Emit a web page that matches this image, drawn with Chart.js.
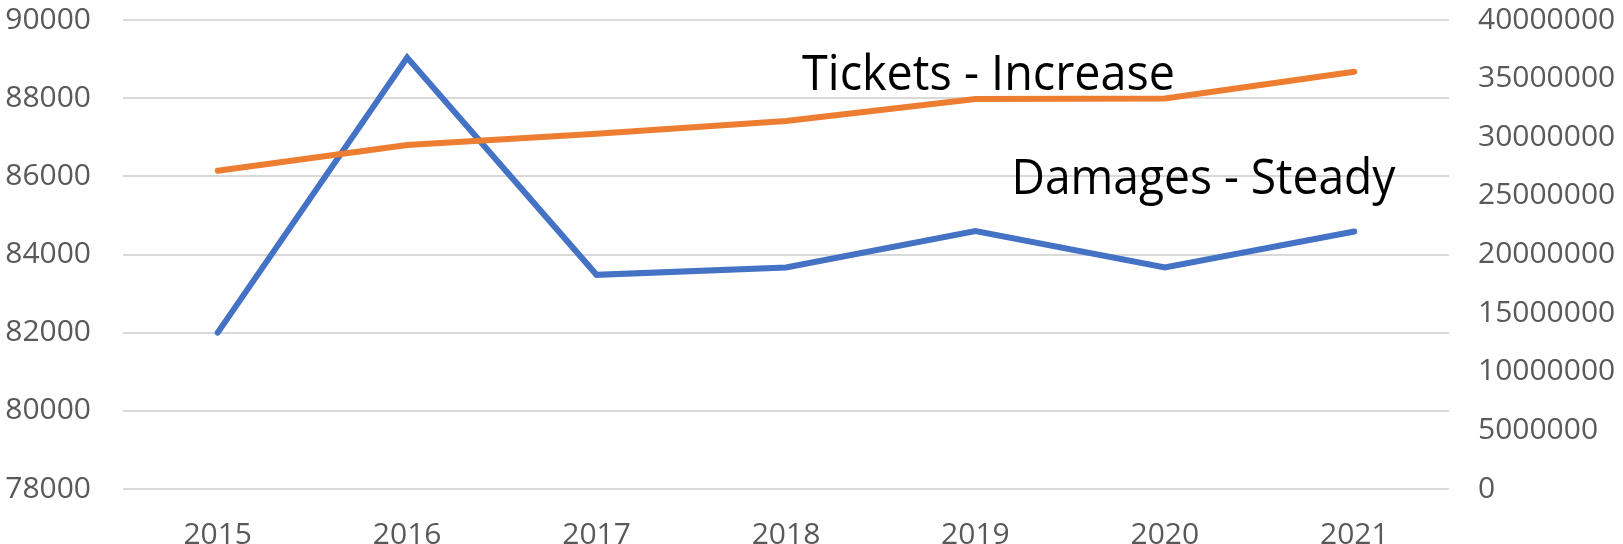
<!DOCTYPE html>
<html>
<head>
<meta charset="utf-8">
<script src="https://cdn.jsdelivr.net/npm/chart.js@4/dist/chart.umd.min.js"></script>
<style>
  html, body { margin: 0; padding: 0; background: #fff; overflow: hidden; }
  #wrap { width: 1623px; height: 544px; position: relative; }
</style>
</head>
<body>
<div id="wrap"><canvas id="grafico"></canvas></div>
<script>
// datos del gráfico
const years = ['2015', '2016', '2017', '2018', '2019', '2020', '2021'];
const damages = [82000, 89040, 83480, 83670, 84600, 83670, 84590];
const tickets = [27150000, 29340000, 30300000, 31380000, 33260000, 33300000, 35590000];
const leftTicks = [78000, 80000, 82000, 84000, 86000, 88000, 90000];
const rightTicks = [0, 5000000, 10000000, 15000000, 20000000, 25000000, 30000000, 35000000, 40000000];
const notes = ['Tickets - Increase', 'Damages - Steady'];

const tickFont = { family: 'Open Sans', size: 30, lineHeight: 1 };
const tickColor = '#595959';

// textos dentro del área del gráfico
const notasPlugin = {
    id: 'notas',
    afterDatasetsDraw(chart) {
        const ctx = chart.ctx;
        const x = chart.scales.x;
        const y = chart.scales.y;
        ctx.save();
        ctx.fillStyle = '#000';
        ctx.font = '49px "Open Sans"';
        ctx.textBaseline = 'alphabetic';
        ctx.textAlign = 'left';
        ctx.fillText(notes[0], x.getPixelForValue(3.085), y.getPixelForValue(88210), 373);
        ctx.fillText(notes[1], x.getPixelForValue(4.19), y.getPixelForValue(85560), 384);
        ctx.restore();
    }
};

const ctx = document.getElementById('grafico').getContext('2d');
const grafico = new Chart(ctx, {
    type: 'line',
    data: {
        labels: years,
        datasets: [{
            label: 'Tickets',
            data: tickets,
            yAxisID: 'y1',
            borderColor: '#ED7D31',
            backgroundColor: '#ED7D31',
            borderWidth: 6,
            borderCapStyle: 'round',
            pointRadius: 0,
            tension: 0
        }, {
            label: 'Damages',
            data: damages,
            yAxisID: 'y',
            borderColor: '#4472C4',
            backgroundColor: '#4472C4',
            borderWidth: 6,
            borderCapStyle: 'round',
            pointRadius: 0,
            tension: 0
        }]
    },
    options: {
        responsive: true,
        maintainAspectRatio: false,
        animation: false,
        layout: { padding: 0, autoPadding: false },
        plugins: {
            legend: { display: false },
            tooltip: { enabled: false }
        },
        scales: {
            x: {
                offset: true,
                grid: { display: false, drawTicks: false },
                border: { display: false },
                ticks: { color: tickColor, font: tickFont, padding: 31, maxRotation: 0 },
                afterFit: function(s) { s.height = 55; s.paddingLeft = 0; s.paddingRight = 0; }
            },
            y: {
                position: 'left',
                min: 78000,
                max: 90000,
                afterBuildTicks: function(axis) { axis.ticks = leftTicks.map(v => ({ value: v })); },
                grid: { color: '#D9D9D9', lineWidth: 2, drawTicks: false },
                border: { display: false },
                ticks: { color: tickColor, font: tickFont, padding: 32, callback: v => String(v) },
                afterFit: function(s) { s.width = 123; s.paddingTop = 20; s.paddingBottom = 0; }
            },
            y1: {
                position: 'right',
                min: 0,
                max: 40000000,
                afterBuildTicks: function(axis) { axis.ticks = rightTicks.map(v => ({ value: v })); },
                grid: { display: false, drawTicks: false },
                border: { display: false },
                ticks: { color: tickColor, font: tickFont, padding: 29, callback: v => String(v) },
                afterFit: function(s) { s.width = 174; s.paddingTop = 20; s.paddingBottom = 0; }
            }
        }
    },
    plugins: [notasPlugin]
});
</script>
</body>
</html>
